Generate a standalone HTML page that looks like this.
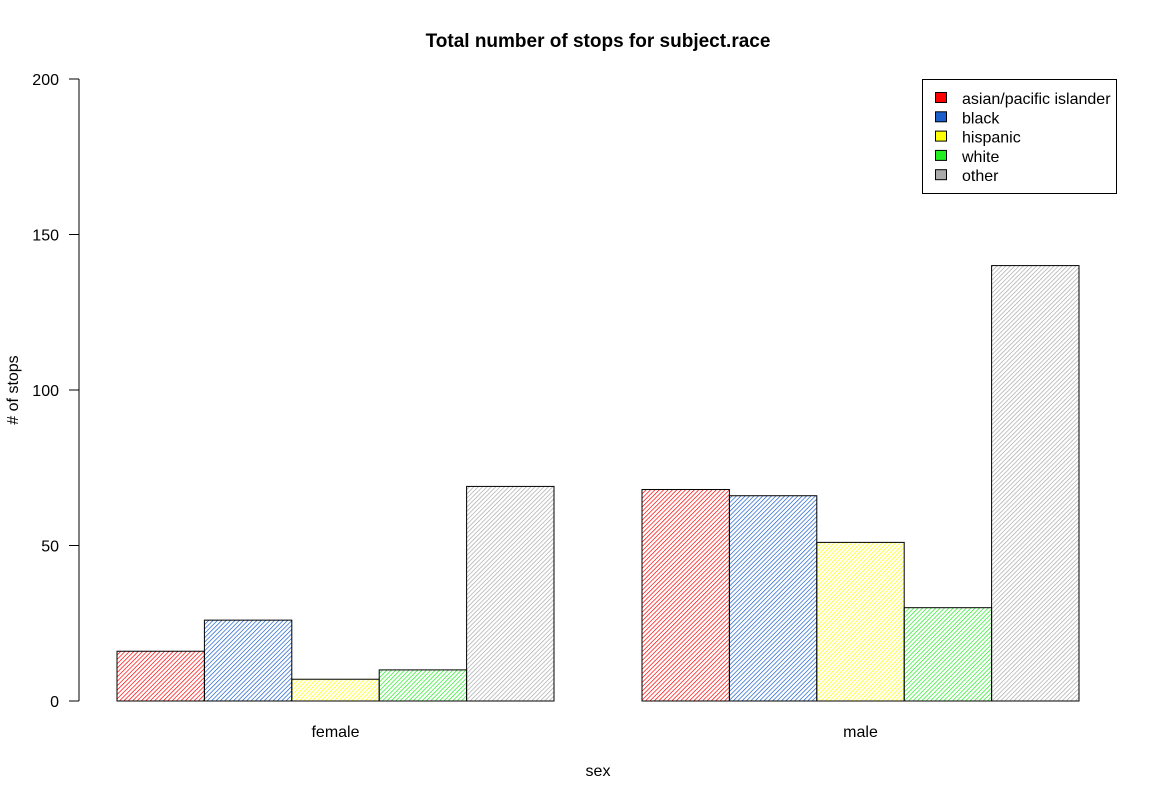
<!DOCTYPE html>
<html><head><meta charset="utf-8"><style>
html,body{margin:0;padding:0;background:#fff;}
svg{display:block;font-family:"Liberation Sans",Arial,sans-serif;}
</style></head><body>
<svg id="chart" width="1158" height="799" viewBox="0 0 1158 799">
<defs id="defs"></defs>
<text x="598" y="47" text-anchor="middle" font-size="19" font-weight="bold">Total number of stops for subject.race</text>
<text transform="translate(18,390) rotate(-90)" text-anchor="middle" font-size="16">#  of stops</text>
<text x="598" y="776" text-anchor="middle" font-size="16">sex</text>
<g id="axis"></g>
<g id="bars"></g>
<g id="legend"></g>
</svg>
<script>
const groups = ["female","male"];
const series = ["asian/pacific islander","black","hispanic","white","other"];
const colors = ["#ff0000","#1a5fcc","#ffff00","#22ee22","#aaaaaa"];
const female = [16,26,7,10,69];
const male = [68,66,51,30,140];
const yTicks = [0,50,100,150,200];
const values = [female, male];

const NS="http://www.w3.org/2000/svg";
const svg=document.getElementById('chart');
function mk(t,a,p){const e=document.createElementNS(NS,t);for(const k in a)e.setAttribute(k,a[k]);p.appendChild(e);return e;}
const y0=701,y1=79,yMax=200;
function Y(v){return y0-(v/yMax)*(y0-y1);}
const groupStart=[117,642], bw=87.4;
function X(g,s){return groupStart[g]+s*bw;}

const defs=document.getElementById('defs');
colors.forEach((c,i)=>{
  const p=mk('pattern',{id:'h'+i,patternUnits:'userSpaceOnUse',width:3.1,height:3.1,patternTransform:'rotate(45)'},defs);
  mk('line',{x1:0,y1:0,x2:0,y2:3.1,stroke:c,'stroke-width':1.4},p);
});

const ax=document.getElementById('axis');
const al=mk('line',{x1:79,y1:Y(0),x2:79,y2:Y(200),stroke:'#000','stroke-width':1},ax);


yTicks.forEach(t=>{
  const tk=mk('line',{x1:69,y1:Y(t),x2:79,y2:Y(t),stroke:'#000'},ax);
  
  
  const tx=mk('text',{x:59,y:Y(t)+6,'text-anchor':'end','font-size':16},ax);
  tx.textContent=t;
  
  
});

const bars=document.getElementById('bars');
values.forEach((vals,g)=>{
  vals.forEach((v,s)=>{
    const r=mk('rect',{x:X(g,s),y:Y(v),width:bw,height:Y(0)-Y(v),fill:'url(#h'+s+')',stroke:'#000','stroke-width':1},bars);
    
    
  });
  const lb=mk('text',{x:groupStart[g]+bw*2.5,y:737,'text-anchor':'middle','font-size':16},bars);
  lb.textContent=groups[g];
  
  
});

const lg=document.getElementById('legend');
mk('rect',{x:922.5,y:79.5,width:194,height:114,fill:'#fff',stroke:'#000'},lg);
series.forEach((s,i)=>{
  const yy=98+i*19.3;
  const sw=mk('rect',{x:935.5,y:yy-5.5,width:11,height:10,fill:colors[i],stroke:'#000'},lg);
  
  
  const t=mk('text',{x:962,y:yy+6,'font-size':16},lg);
  t.textContent=s;
  
  
});
</script>
</body></html>
